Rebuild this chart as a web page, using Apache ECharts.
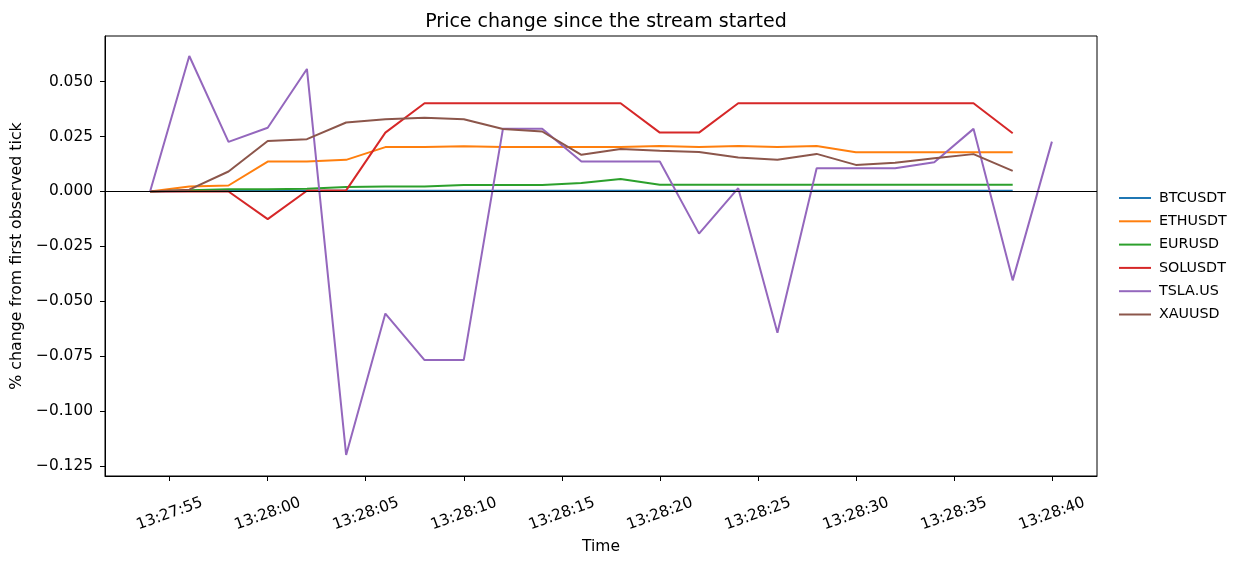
<!DOCTYPE html>
<html>
<head>
<meta charset="utf-8">
<script src="https://cdn.jsdelivr.net/npm/echarts@6/dist/echarts.min.js"></script>
<style>
html,body{margin:0;padding:0;background:#fff;}
#chart{width:1247px;height:562px;}
</style>
</head>
<body>
<div id="chart"></div>
<script>
// ---- Data ----
const times = ['13:27:54','13:27:56','13:27:58','13:28:00','13:28:02','13:28:04','13:28:06','13:28:08','13:28:10','13:28:12','13:28:14','13:28:16','13:28:18','13:28:20','13:28:22','13:28:24','13:28:26','13:28:28','13:28:30','13:28:32','13:28:34','13:28:36','13:28:38','13:28:40'];
const BTCUSDT = [0,0.0002,0.0003,0.0003,0.0003,0.0003,0.0003,0.0003,0.0003,0.0003,0.0003,0.0003,0.0003,0.0003,0.0003,0.0003,0.0003,0.0003,0.0003,0.0003,0.0003,0.0003,0.0003];
const ETHUSDT = [0,0.0023,0.0027,0.0136,0.0136,0.0144,0.0202,0.0202,0.0206,0.0203,0.0203,0.0203,0.0203,0.0207,0.0203,0.0207,0.0202,0.0207,0.0179,0.0179,0.0179,0.0179,0.0179];
const EURUSD = [0,0.0005,0.0010,0.0010,0.0012,0.0020,0.0022,0.0022,0.0029,0.0029,0.0029,0.0038,0.0057,0.0030,0.0030,0.0030,0.0030,0.0030,0.0030,0.0030,0.0030,0.0030,0.0030];
const SOLUSDT = [0,0,0,-0.0126,0.0003,0.0005,0.0268,0.0402,0.0402,0.0402,0.0402,0.0402,0.0402,0.0268,0.0268,0.0402,0.0402,0.0402,0.0402,0.0402,0.0402,0.0402,0.0265];
const TSLAUS = [0,0.0617,0.0226,0.0290,0.0558,-0.1200,-0.0556,-0.0768,-0.0768,0.0286,0.0286,0.0136,0.0136,0.0136,-0.0192,0.0015,-0.0644,0.0106,0.0106,0.0106,0.0133,0.0285,-0.0405,0.0227];
const XAUUSD = [0,0.0008,0.0091,0.0230,0.0238,0.0314,0.0329,0.0336,0.0329,0.0284,0.0273,0.0167,0.0193,0.0185,0.0180,0.0155,0.0144,0.0171,0.0121,0.0131,0.0151,0.0170,0.0094];
const seriesNames = ['BTCUSDT','ETHUSDT','EURUSD','SOLUSDT','TSLA.US','XAUUSD'];
const seriesValues = [BTCUSDT, ETHUSDT, EURUSD, SOLUSDT, TSLAUS, XAUUSD];
const xTickLabels = ['13:27:55','13:28:00','13:28:05','13:28:10','13:28:15','13:28:20','13:28:25','13:28:30','13:28:35','13:28:40'];
const yTickValues = [-0.125,-0.100,-0.075,-0.050,-0.025,0.000,0.025,0.050];
const colors = ['#1f77b4','#ff7f0e','#2ca02c','#d62728','#9467bd','#8c564b'];

function toSec(s){const p=s.split(':').map(Number);return p[0]*3600+p[1]*60+p[2];}
function fmtSec(v){v=Math.round(v);const h=Math.floor(v/3600),m=Math.floor((v%3600)/60),s=v%60;const z=n=>String(n).padStart(2,'0');return z(h)+':'+z(m)+':'+z(s);}

const tSec = times.map(toSec);
const xTicks = xTickLabels.map(toSec);
const span = tSec[tSec.length-1]-tSec[0];
const xMin = tSec[0]-span*0.05, xMax = tSec[tSec.length-1]+span*0.05;

const FONT = 'DejaVu Sans';
const chart = echarts.init(document.getElementById('chart'), null, {renderer:'canvas'});
const series = seriesNames.map((n,i)=>({
  name:n, type:'line', symbol:'none', showSymbol:false,
  data: seriesValues[i].map((v,j)=>[tSec[j],v]),
  lineStyle:{color:colors[i],width:2}, itemStyle:{color:colors[i]},
  animation:false, z:2+i
}));
series[series.length-1].markLine = {
  silent:true, symbol:['none','none'], label:{show:false},
  lineStyle:{color:'#000',width:1.2,type:'solid'},
  data:[{yAxis:0}], z:20
};
chart.setOption({
  animation:false,
  backgroundColor:'#fff',
  title:{text:'Price change since the stream started', left:601, textAlign:'center', top:8,
    textStyle:{fontFamily:FONT,fontSize:19,fontWeight:'normal',color:'#000'}},
  grid:{left:105,right:150,top:36,bottom:86,show:true,borderColor:'#000',borderWidth:1,containLabel:false},
  legend:{orient:'vertical', left:1114, top:185, icon:'rect', itemWidth:32, itemHeight:2, itemGap:7.3,
    data:seriesNames, textStyle:{fontFamily:FONT,fontSize:14.3,color:'#000',lineHeight:16, padding:[0,0,0,3]}},
  xAxis:{type:'value', min:xMin, max:xMax, name:'Time', nameLocation:'middle', nameGap:54,
    nameTextStyle:{fontFamily:FONT,fontSize:15.5,color:'#000'},
    axisLine:{show:true,onZero:false,lineStyle:{color:'#000',width:1}},
    axisTick:{show:true,length:5,lineStyle:{color:'#000'},customValues:xTicks},
    axisLabel:{customValues:xTicks, formatter:v=>fmtSec(v), rotate:20, align:'center', verticalAlign:'middle', margin:38,
      fontFamily:FONT,fontSize:15.4,color:'#000'},
    splitLine:{show:false}},
  yAxis:{type:'value', min:-0.1296, max:0.0708, name:'% change from first observed tick', nameLocation:'middle', nameGap:76,
    nameTextStyle:{fontFamily:FONT,fontSize:15.8,color:'#000'},
    axisLine:{show:true,onZero:false,lineStyle:{color:'#000',width:1}},
    axisTick:{show:true,length:5,lineStyle:{color:'#000'},customValues:yTickValues},
    axisLabel:{customValues:yTickValues, formatter:v=>v.toFixed(3).replace('-','\u2212'), margin:12,
      fontFamily:FONT,fontSize:15.4,color:'#000'},
    splitLine:{show:false}},
  series: series
});
</script>
</body>
</html>
